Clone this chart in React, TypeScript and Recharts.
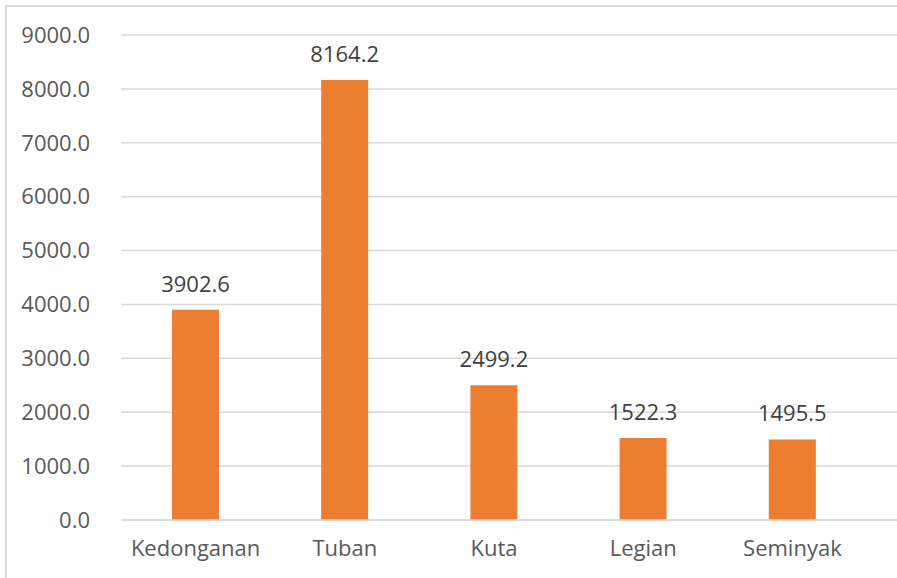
import React from 'react';
import { BarChart, Bar, XAxis, YAxis, CartesianGrid, LabelList } from 'recharts';

const categories = ['Kedonganan', 'Tuban', 'Kuta', 'Legian', 'Seminyak'];
const values = [3902.6, 8164.2, 2499.2, 1522.3, 1495.5];
const yTicks = [0, 1000, 2000, 3000, 4000, 5000, 6000, 7000, 8000, 9000];

const data = categories.map((name, i) => ({ name, value: values[i] }));

const FONT = '"Open Sans", sans-serif';

export default function App() {
  return (
    <div style={{ position: 'absolute', left: 0, top: 0, width: 897, height: 578, background: '#fff', overflow: 'hidden' }}>
      <div style={{ position: 'absolute', left: 5, top: 5, width: 900, height: 600, borderLeft: '2px solid #d9d9d9', borderTop: '2px solid #d9d9d9' }} />
      <BarChart
        width={897}
        height={578}
        data={data}
        margin={{ top: 35, right: 0, left: 0, bottom: 8 }}
        style={{ position: 'absolute', left: 0, top: 0 }}
      >
        <CartesianGrid vertical={false} stroke="#d9d9d9" strokeWidth={1.5} />
        <XAxis
          dataKey="name"
          axisLine={{ stroke: '#d9d9d9', strokeWidth: 1.5 }}
          tickLine={false}
          height={50}
          padding={{ left: 0, right: 30 }}
          tick={{ fill: '#595959', fontSize: 22, fontFamily: FONT }}
          tickMargin={14}
          interval={0}
        />
        <YAxis
          domain={[0, 9000]}
          ticks={yTicks}
          width={121}
          axisLine={false}
          tickLine={false}
          tickFormatter={(v: number) => v.toFixed(1)}
          tick={{ fill: '#595959', fontSize: 22, fontFamily: FONT }}
          tickMargin={25}
          interval={0}
        />
        <Bar dataKey="value" fill="#ED7D31" barSize={47} isAnimationActive={false}>
          <LabelList
            dataKey="value"
            position="top"
            offset={18}
            formatter={(v: number) => v.toFixed(1)}
            style={{ fill: '#404040', fontSize: 22, fontFamily: FONT }}
          />
        </Bar>
      </BarChart>
    </div>
  );
}
